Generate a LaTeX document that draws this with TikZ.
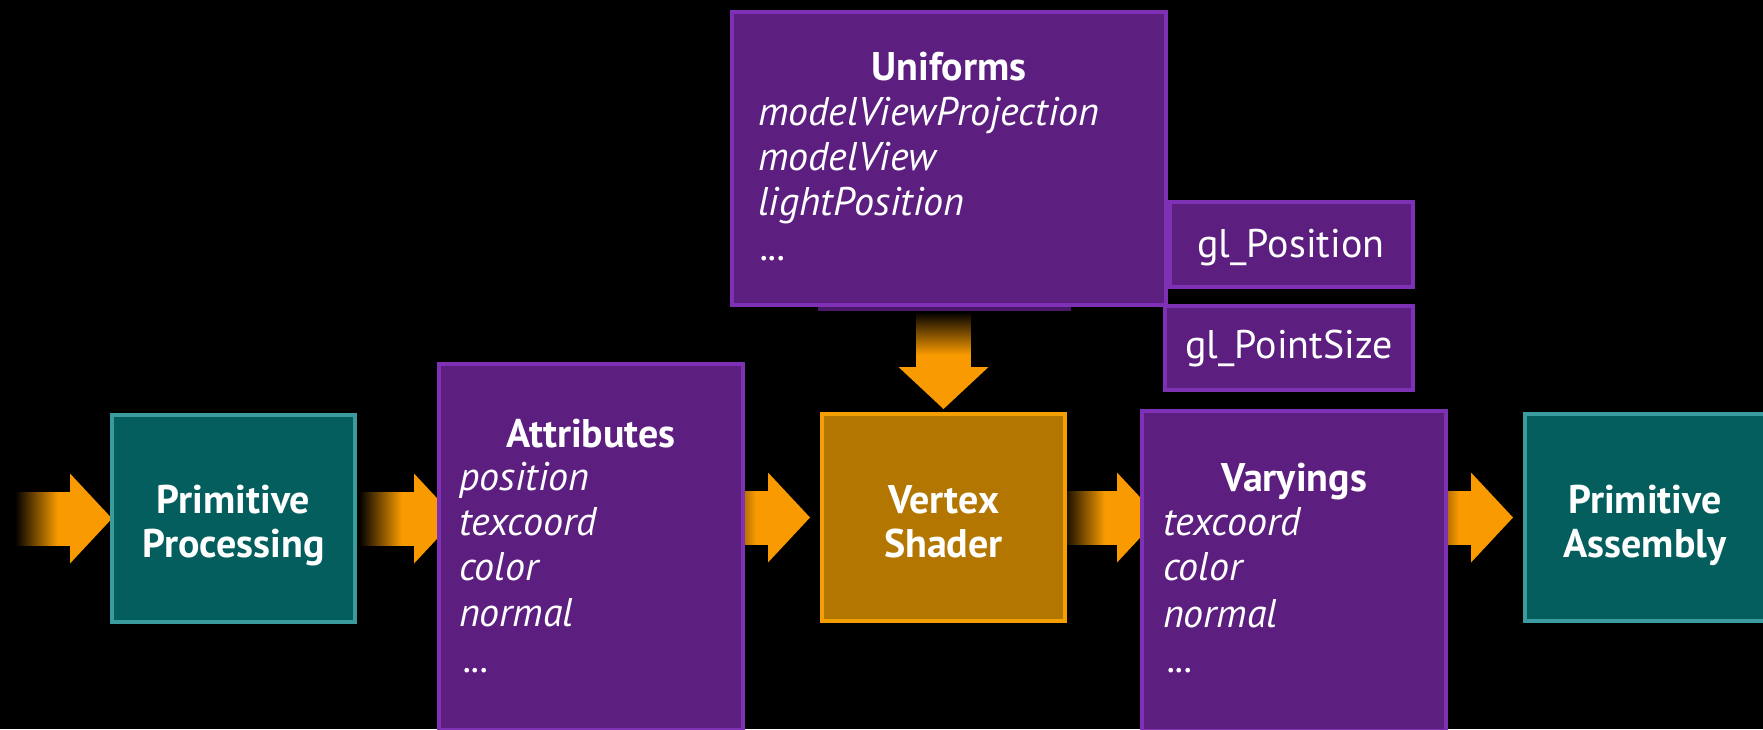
\documentclass[tikz,border=0pt]{standalone}
\usepackage{fontspec}
\setmainfont{PT Sans}
\usetikzlibrary{calc}

\definecolor{tealfill}{HTML}{045E5E}
\definecolor{tealline}{HTML}{3A9C9E}
\definecolor{purfill}{HTML}{5C1E7F}
\definecolor{purline}{HTML}{7E31B5}
\definecolor{purshadow}{HTML}{4A1868}
\definecolor{vsfill}{HTML}{B37600}
\definecolor{vsline}{HTML}{F5A000}
\definecolor{arrowor}{HTML}{F89A00}

% layers: black canvas, then arrows, then boxes and text
\pgfdeclarelayer{canvas}
\pgfdeclarelayer{arrows}
\pgfsetlayers{canvas,arrows,main}

% shaft fades in from the black background
\pgfdeclarehorizontalshading{shaftfadeh}{100bp}{color(0bp)=(black); color(25bp)=(black); color(63bp)=(arrowor); color(100bp)=(arrowor)}
\pgfdeclareverticalshading{shaftfadev}{100bp}{color(0bp)=(arrowor); color(37bp)=(arrowor); color(75bp)=(black); color(100bp)=(black)}

% fat arrow pointing right, tip at #1
\newcommand\fatright[1]{%
  \begin{scope}[shift={#1}]
    \shade[shading=shaftfadeh] (-97,-26.5) rectangle (-41,26.5);
    \fill[arrowor] (-42,-45) -- (0,0) -- (-42,45) -- cycle;
  \end{scope}}
% fat arrow pointing down, tip at #1
\newcommand\fatdown[1]{%
  \begin{scope}[shift={#1}]
    \shade[shading=shaftfadev] (-27,-97) rectangle (27,-41);
    \fill[arrowor] (-45,-42) -- (0,0) -- (45,-42) -- cycle;
  \end{scope}}

\begin{document}
\begin{tikzpicture}[x=1pt,y=-1pt,
  box/.style={line width=4pt, inner sep=0pt, outer sep=0pt, anchor=north west},
  tealbox/.style={box, draw=tealline, fill=tealfill},
  purbox/.style={box, draw=purline, fill=purfill},
  vsbox/.style={box, draw=vsline, fill=vsfill},
  txt/.style={text=white, inner sep=0pt, outer sep=0pt, font=\fontsize{40}{46}\selectfont},
  ttl/.style={txt, anchor=base, font=\fontsize{40}{46}\selectfont\bfseries},
  stage/.style={ttl},
  output/.style={txt, anchor=base},
  item/.style={txt, anchor=base west, font=\fontsize{40}{46}\selectfont\itshape},
]
\useasboundingbox (0,0) rectangle (1763,729);
\clip (0,0) rectangle (1763,729);
\begin{pgfonlayer}{canvas}
  \fill[black] (0,0) rectangle (1763,729);
\end{pgfonlayer}

% built-in outputs, partly behind the uniforms box
\node[purbox, minimum width=243pt, minimum height=85pt] (glpos) at (1170,202) {};
\node[purbox, minimum width=248pt, minimum height=84pt] (glps) at (1165,306) {};

% uniforms block
\node[purbox, minimum width=434pt, minimum height=293pt] (uni) at (732,12) {};
\fill[purshadow] (818,307) rectangle (1071,311);

% pipeline stages
\node[tealbox, minimum width=243pt, minimum height=207pt] (pp) at (112,415) {};
\node[purbox, minimum width=304pt, minimum height=366pt] (attr) at (439,364) {};
\node[vsbox, minimum width=243pt, minimum height=207pt] (vs) at (822,414) {};
\node[purbox, minimum width=304pt, minimum height=320pt] (var) at (1142,411) {};
\node[tealbox, minimum width=243pt, minimum height=207pt] (asm) at (1525,414) {};

% arrows, drawn under the boxes they run into
\begin{pgfonlayer}{arrows}
  \fatright{(pp.west)}
  \fatright{($(attr.west |- pp.west)+(17,0)$)}
  \fatright{($(vs.west)+(-12,0)$)}
  \fatright{($(var.west |- vs.west)+(17,0)$)}
  \fatright{($(asm.west)+(-12,0)$)}
  \fatdown{($(vs.north)+(0,-5)$)}
\end{pgfonlayer}

% labels
\node[stage] (ppA) at (233.5,513) {Primitive};
\node[stage] (ppB) at (233.5,557) {Processing};
\node[stage] (vsA) at (943.5,513) {Vertex};
\node[stage] (vsB) at (943.5,557) {Shader};
\node[stage] (asmA) at (1645,513) {Primitive};
\node[stage] (asmB) at (1645,557) {Assembly};

\node[ttl] (uniT) at (949,80) {Uniforms};
\node[item] (uni1) at (758,125) {modelViewProjection};
\node[item] (uni2) at (758,170) {modelView};
\node[item] (uni3) at (758,215) {lightPosition};
\node[item] (uni4) at (760,260) {...};

\node[ttl] (attrT) at (591,447) {Attributes};
\node[item] (attr1) at (459,490) {position};
\node[item] (attr2) at (459,535) {texcoord};
\node[item] (attr3) at (459,580) {color};
\node[item] (attr4) at (459,626) {normal};
\node[item] (attr5) at (463,672) {...};

\node[ttl] (varT) at (1294,491) {Varyings};
\node[item] (var1) at (1163,535) {texcoord};
\node[item] (var2) at (1163,580) {color};
\node[item] (var3) at (1163,627) {normal};
\node[item] (var4) at (1167,672) {...};

\node[output] (glposT) at (1291,257) {gl\_Position};
\node[output] (glpsT) at (1289,358) {gl\_PointSize};
\end{tikzpicture}
\end{document}
